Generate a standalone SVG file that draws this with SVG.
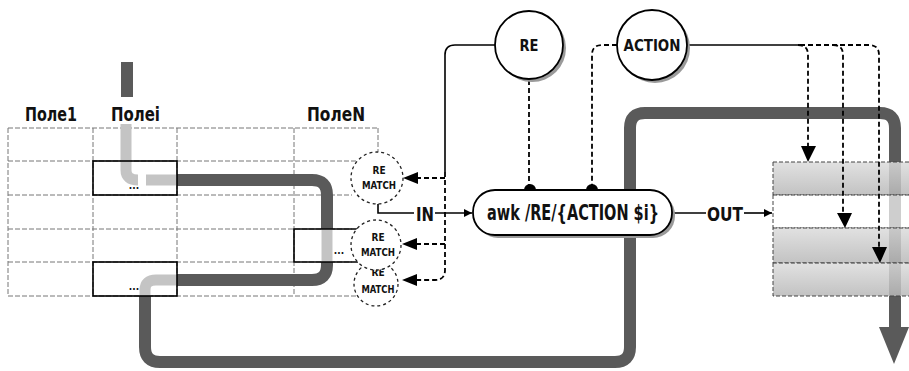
<svg xmlns="http://www.w3.org/2000/svg" width="909" height="371" viewBox="0 0 909 371">
<style>
.grid{stroke:#777;stroke-width:1;stroke-dasharray:5 2;fill:none}
.sel{stroke:#000;stroke-width:1.6;fill:none}
.thick{fill:none;stroke:#5a5a5a;stroke-width:12;stroke-linejoin:round}
.light{fill:none;stroke:#c4c4c4;stroke-width:11}
.line{fill:none;stroke:#000;stroke-width:1.6}
.dash{fill:none;stroke:#000;stroke-width:1.8;stroke-dasharray:5 3}
.t{font-family:"DejaVu Sans Condensed","DejaVu Sans","Liberation Sans",sans-serif;font-weight:bold;fill:#111}
.m{font-family:"DejaVu Sans Condensed","DejaVu Sans",sans-serif;font-weight:bold;font-size:10px;fill:#111}
.mc{fill:#fff;stroke:#222;stroke-width:1.3;stroke-dasharray:3 3}
.shadow{fill:#9a9a9a}
.node{fill:#fff;stroke:#000;stroke-width:1.8}
.box{stroke:#444;stroke-width:1;stroke-dasharray:4 2}
</style>
<defs>
<linearGradient id="g" x1="0" y1="0" x2="0" y2="1">
<stop offset="0" stop-color="#dcdcdc"/>
<stop offset="1" stop-color="#b8b8b8"/>
</linearGradient>
<marker id="ah" viewBox="0 0 10 10" refX="10" refY="5" markerWidth="8" markerHeight="8" markerUnits="userSpaceOnUse" orient="auto">
<path d="M0,0 L10,5 L0,10 Z" fill="#000"/>
</marker>
</defs>
<rect width="909" height="371" fill="#fff"/>

<g id="table">
<path class="grid" d="M8,128 H378 M8,161 H356 M8,195 H352 M8,229 H352 M8,262 H352 M8,296 H356 M8,128 V296 M93,128 V296 M177,128 V296 M294,128 V296 M378,128 V161"/>
</g>

<g id="flow">
<path d="M127,62 V97" class="thick" stroke-linecap="butt"/>
<path d="M126,124 V170 Q126,180 138,180 M146,180 H177" class="light"/>
<path class="thick" d="M177,180 H312 Q327,180 327,195 V229 M327,262 V265 Q327,280 312,280 H177"/>
<path d="M327,229 V262" class="light" stroke-width="10"/>
<path d="M177,280 H156 Q145,280 145,290 V296" class="light"/>
<path class="thick" d="M145,296 V347 Q145,362 160,362 H615 Q630,362 630,347 V128 Q630,113 645,113 H880 Q895,113 895,128 V330"/>
<path d="M879,327 L909,327 L894,364 Z" fill="#5a5a5a"/>
</g>

<g id="headers">
<text class="t" x="25" y="121" font-size="20" textLength="52" lengthAdjust="spacingAndGlyphs">Поле1</text>
<text class="t" x="111" y="121" font-size="20" textLength="49" lengthAdjust="spacingAndGlyphs">Полеi</text>
<text class="t" x="307" y="121" font-size="20" textLength="58" lengthAdjust="spacingAndGlyphs">ПолеN</text>
</g>

<g id="selected">
<rect class="sel" x="93" y="161" width="84" height="34" fill="none"/>
<rect class="sel" x="93" y="262" width="84" height="34" fill="none"/>
<path class="sel" d="M358,229 H294 V262 H358"/>
<text class="m" x="134" y="189" text-anchor="middle" font-size="9">...</text>
<text class="m" x="134" y="290" text-anchor="middle" font-size="9">...</text>
<text class="m" x="339" y="254" text-anchor="middle" font-size="9">...</text>
</g>

<g id="match3">
<circle class="mc" cx="376" cy="284" r="22"/>
<text class="m" x="378" y="276" text-anchor="middle" font-size="9">RE</text>
<text class="m" x="378" y="293" text-anchor="middle" textLength="33" lengthAdjust="spacingAndGlyphs">MATCH</text>
</g>
<g id="match2">
<circle class="mc" cx="376" cy="245" r="25"/>
<text class="m" x="378" y="241" text-anchor="middle" font-size="10">RE</text>
<text class="m" x="378" y="256" text-anchor="middle" textLength="34" lengthAdjust="spacingAndGlyphs">MATCH</text>
</g>
<g id="match1">
<circle class="mc" cx="377" cy="178" r="26"/>
<text class="m" x="379" y="174" text-anchor="middle" font-size="10">RE</text>
<text class="m" x="379" y="189" text-anchor="middle" textLength="34" lengthAdjust="spacingAndGlyphs">MATCH</text>
</g>

<g id="output">
<rect class="box" x="773" y="162" width="140" height="33" fill="url(#g)" fill-opacity="0.85"/>
<rect class="box" x="773" y="195" width="140" height="33" fill="#fff" fill-opacity="0.7"/>
<rect class="box" x="773" y="228" width="140" height="35" fill="url(#g)" fill-opacity="0.85"/>
<rect class="box" x="773" y="263" width="140" height="33" fill="url(#g)" fill-opacity="0.85"/>
</g>

<g id="connectors">
<path class="line" d="M495,45 H455 Q445,45 445,55 V172"/>
<path class="dash" d="M445,172 V270 Q445,280 435,280 H416"/>
<path class="dash" d="M445,178 H416 M445,244 H416"/>
<path d="M403,178 L418,172 L418,184 Z M402,244 L417,238 L417,250 Z M402,280 L417,274 L417,286 Z" fill="#000"/>
<path class="line" d="M378,204 V213 H414"/>
<path class="line" d="M435,213 H472" marker-end="url(#ah)"/>
<path class="dash" d="M529,80 V186"/>
<path class="dash" d="M617,45 H602 Q592,45 592,55 V186"/>
<circle cx="530" cy="190" r="6" fill="#000"/>
<circle cx="592" cy="190" r="6" fill="#000"/>
<path class="line" d="M672,213 H706"/>
<path class="line" d="M744,213 H772" marker-end="url(#ah)"/>
<path class="line" d="M687,45 H800"/>
<path class="dash" d="M798,45 Q808,45 808,55 V148"/>
<path class="dash" d="M800,45 H869 Q879,45 879,55 V249"/>
<path class="dash" d="M833,45 Q843,45 843,55 V214"/>
<path d="M801,146 L816,146 L808,162 Z M837,213 L852,213 L845,228 Z M872,247 L887,247 L880,263 Z" fill="#000"/>
<text class="t" x="416" y="221" font-size="19" textLength="18" lengthAdjust="spacingAndGlyphs">IN</text>
<text class="t" x="707" y="221" font-size="19" textLength="36" lengthAdjust="spacingAndGlyphs">OUT</text>
</g>

<g id="re">
<circle class="shadow" cx="532" cy="48" r="34"/>
<circle class="node" cx="529" cy="45" r="34"/>
<text class="t" x="529" y="51" text-anchor="middle" font-size="16" textLength="19" lengthAdjust="spacingAndGlyphs">RE</text>
</g>
<g id="action">
<circle class="shadow" cx="655" cy="48" r="35"/>
<circle class="node" cx="652" cy="45" r="35"/>
<text class="t" x="652" y="51" text-anchor="middle" font-size="16" textLength="57" lengthAdjust="spacingAndGlyphs">ACTION</text>
</g>
<g id="awk">
<rect class="shadow" x="476" y="193" width="199" height="45" rx="22"/>
<rect class="node" x="473" y="190" width="199" height="45" rx="22"/>
<text class="t" x="573" y="220" text-anchor="middle" font-size="21" textLength="172" lengthAdjust="spacingAndGlyphs">awk /RE/{ACTION $i}</text>
</g>
</svg>
